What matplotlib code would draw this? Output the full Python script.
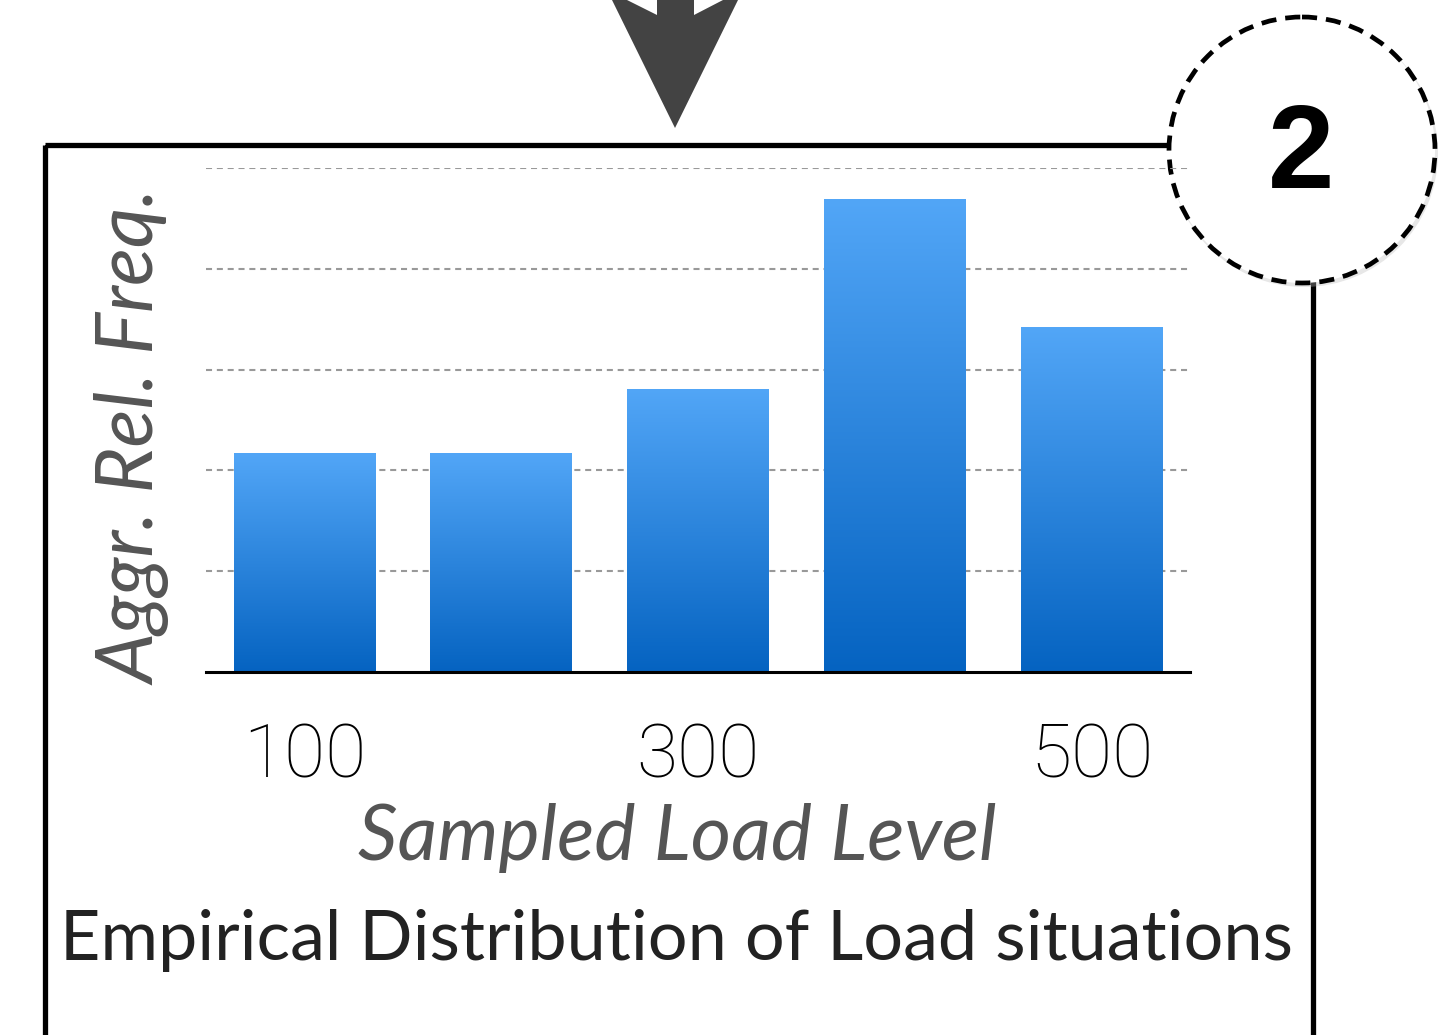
import numpy as np
import matplotlib.pyplot as plt
from matplotlib.colors import LinearSegmentedColormap
from matplotlib.patches import Polygon, Circle, Rectangle

# sampled load levels and aggregated relative frequency
levels = [100, 200, 300, 400, 500]
freq = [2.17, 2.17, 2.81, 4.69, 3.42]
tick_levels = [100, 300, 500]

W, H = 1446, 1035
fig = plt.figure(figsize=(W / 100, H / 100), dpi=100)

# decoration layer in pixel coordinates
deco = fig.add_axes([0, 0, 1, 1])
deco.set_xlim(0, W)
deco.set_ylim(H, 0)
deco.axis("off")

# frame box
deco.add_patch(Rectangle((45, 145), 1268, 1000, fill=False, ec="black", lw=3.8, zorder=1))

# arrow coming down into the box
arrow = [(657, 0), (657, 15), (627, 0), (612, 0), (675, 128),
         (738, 0), (723, 0), (694, 15), (694, 0)]
deco.add_patch(Polygon(arrow, closed=True, fc="#434343", ec="none", zorder=2))

# step number badge
deco.add_patch(Circle((1304, 153), 134, fc="#bbbbbb", ec="none", alpha=0.35, zorder=3))
deco.add_patch(Circle((1302, 150), 133, fc="white", ec="black", lw=3.4,
                      ls=(0, (3.2, 1.9)), zorder=4))
deco.text(1301, 158, "2", ha="center", va="center", fontsize=86,
          fontweight="bold", family="Liberation Sans", zorder=5)

# title
deco.text(676, 940, "Empirical Distribution of Load situations", ha="center",
          va="center", fontsize=50.5, color="#222222", family="Lato")

# bar chart
ax = fig.add_axes([206 / W, 1 - 672 / H, (1190 - 206) / W, (672 - 168) / H])
ax.set_xlim(50, 550)
ax.set_ylim(0, 5)
for s in ["top", "right", "left"]:
    ax.spines[s].set_visible(False)
ax.spines["bottom"].set_linewidth(2.2)
ax.patch.set_alpha(0)

for y in range(1, 6):
    ax.axhline(y, color="#999999", lw=1.5, ls=(0, (2.9, 2.3)), zorder=0)

bars = ax.bar(levels, freq, width=72, color="none", zorder=2)
cmap = LinearSegmentedColormap.from_list("blu", ["#0563C1", "#52A6F7"])
grad = np.linspace(0, 1, 256).reshape(-1, 1)
for b in bars:
    x0, w, h = b.get_x(), b.get_width(), b.get_height()
    im = ax.imshow(grad, cmap=cmap, origin="lower", aspect="auto",
                   extent=[x0, x0 + w, 0, h], zorder=1)
    im.set_clip_path(b)

ax.set_xticks(tick_levels)
ax.set_xticklabels([str(t) for t in tick_levels], fontsize=54,
                   family="Roboto", fontweight="light")
ax.tick_params(axis="x", length=0, pad=36)
ax.set_yticks([])
ax.set_xlabel("Sampled Load Level", fontsize=56, style="italic",
              color="#555555", family="Lato")
ax.xaxis.set_label_coords((677 - 206) / 984, -(803 - 672) / 504)
ax.set_ylabel("Aggr. Rel. Freq.", fontsize=57, style="italic",
              color="#555555", family="Lato")
ax.yaxis.set_label_coords(-(206 - 172) / 984, (672 - 438) / 504)

fig.savefig("out.png", dpi=100)
